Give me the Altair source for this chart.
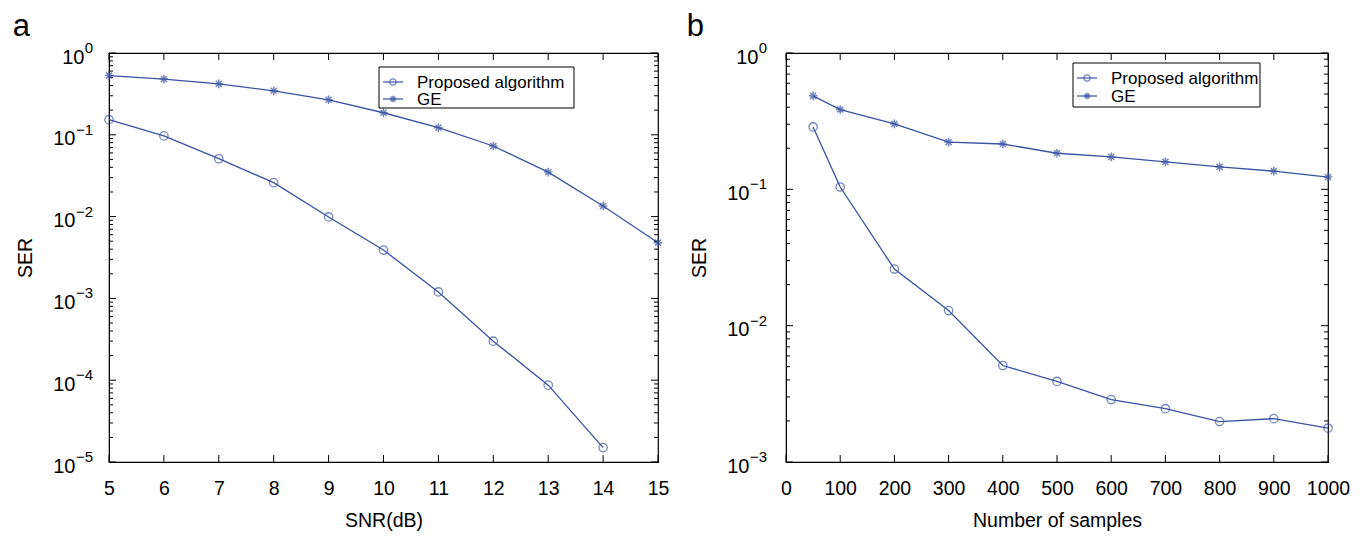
import altair as alt
import pandas as pd

# ---------------- data ----------------
snr = [5, 6, 7, 8, 9, 10, 11, 12, 13, 14, 15]
snr_prop = [5, 6, 7, 8, 9, 10, 11, 12, 13, 14]
ser_prop_snr = [0.153, 0.097, 0.051, 0.026, 0.0099, 0.0039, 0.0012, 0.0003, 8.7e-5, 1.5e-5]
ser_ge_snr = [0.53, 0.48, 0.42, 0.345, 0.268, 0.186, 0.122, 0.073, 0.035, 0.0135, 0.0048]

samples = [50, 100, 200, 300, 400, 500, 600, 700, 800, 900, 1000]
ser_prop_samples = [0.287, 0.104, 0.026, 0.0129, 0.0051, 0.0039, 0.00287, 0.00246, 0.00198, 0.00208, 0.00177]
ser_ge_samples = [0.485, 0.385, 0.302, 0.222, 0.215, 0.184, 0.173, 0.159, 0.146, 0.136, 0.123]

series_names = ["Proposed algorithm", "GE"]
left_xticks = list(range(5, 16))
right_xticks = list(range(0, 1001, 100))
left_yticks = [1, 0.1, 0.01, 0.001, 0.0001, 0.00001]
left_yexp = ["0", "\u22121", "\u22122", "\u22123", "\u22124", "\u22125"]
right_yticks = [1, 0.1, 0.01, 0.001]
right_yexp = ["0", "\u22121", "\u22122", "\u22123"]

BLUE = "#3953a4"
FONT = "Liberation Sans"
ASTER = "M-1,0L1,0M0,-1L0,1M-0.7,-0.7L0.7,0.7M-0.7,0.7L0.7,-0.7"


def minor_ticks(major):
    out = []
    for v in major:
        if v < max(major):
            out += [m * v for m in range(2, 10)]
    return out


def panel(xs_prop, ys_prop, xs_ge, ys_ge, xdom, xticks, yticks, yexp, xtitle, label,
          W, H, leg, exp_gap):
    minor = minor_ticks(yticks)
    xs = alt.Scale(domain=xdom, nice=False, zero=False)
    ys = alt.Scale(type="log", domain=[min(yticks), max(yticks)], nice=False)

    df_p = pd.DataFrame({"x": xs_prop, "y": ys_prop})
    df_g = pd.DataFrame({"x": xs_ge, "y": ys_ge})

    xenc = alt.X("x:Q", scale=xs,
                 axis=alt.Axis(values=xticks, ticks=False, grid=False, title=xtitle,
                               labelFontSize=19.5, titleFontSize=19.5, labelFont=FONT, titleFont=FONT,
                               labelColor="black", titleColor="black", titleFontWeight="normal",
                               labelPadding=17, titlePadding=14, domainColor="black",
                               labelFlush=False, format="d"))
    yenc = alt.Y("y:Q", scale=ys,
                 axis=alt.Axis(values=yticks, ticks=False, grid=False, title="SER",
                               labelExpr="'10'", labelFontSize=20, titleFontSize=19.5,
                               labelFont=FONT, titleFont=FONT, labelColor="black", titleColor="black",
                               titleFontWeight="normal",
                               labelPadding={"condition": {"test": "datum.value == 1",
                                                           "value": exp_gap + 9},
                                             "value": exp_gap + 18},
                               labelOffset=4, titlePadding=17,
                               domainColor="black", labelFlush=False))

    line_p = alt.Chart(df_p).mark_line(color=BLUE, strokeWidth=1.3).encode(x=xenc, y=yenc)
    pt_p = alt.Chart(df_p).mark_point(shape="circle", color=BLUE, filled=False, size=70,
                                      strokeWidth=1.3).encode(x="x:Q", y="y:Q")
    line_g = alt.Chart(df_g).mark_line(color=BLUE, strokeWidth=1.3).encode(x="x:Q", y="y:Q")
    pt_g = alt.Chart(df_g).mark_point(shape=ASTER, color=BLUE, filled=False, size=75,
                                      strokeWidth=1.5).encode(x="x:Q", y="y:Q")

    # exponents of the y tick labels
    df_exp = pd.DataFrame({"y": yticks, "e": yexp})
    exp_txt = alt.Chart(df_exp).mark_text(align="right", baseline="middle", fontSize=15,
                                          font=FONT, color="black", dy=-5).encode(
        y="y:Q", x=alt.value(-exp_gap), text="e:N")

    # inward ticks (box style)
    df_ymaj = pd.DataFrame({"y": yticks})
    df_ymin = pd.DataFrame({"y": minor})
    df_xt = pd.DataFrame({"x": xticks})
    tk = []
    for d, sz in ((df_ymaj, 7), (df_ymin, 4)):
        tk.append(alt.Chart(d).mark_rule(color="black", strokeWidth=1).encode(
            y="y:Q", x=alt.value(0), x2=alt.value(sz)))
        tk.append(alt.Chart(d).mark_rule(color="black", strokeWidth=1).encode(
            y="y:Q", x=alt.value(W), x2=alt.value(W - sz)))
    tk.append(alt.Chart(df_xt).mark_rule(color="black", strokeWidth=1).encode(
        x="x:Q", y=alt.value(H), y2=alt.value(H - 7)))
    tk.append(alt.Chart(df_xt).mark_rule(color="black", strokeWidth=1).encode(
        x="x:Q", y=alt.value(0), y2=alt.value(7)))

    # legend box
    bx0, bx1, by0, by1, r0, r1 = leg
    df_leg = pd.DataFrame({"name": series_names})
    box = alt.Chart(df_leg.head(1)).mark_rect(fill="white", stroke="black", strokeWidth=1).encode(
        x=alt.value(bx0), x2=alt.value(bx1), y=alt.value(by0), y2=alt.value(by1))
    lg = [box]
    for i, (ry, shp, sz, sw) in enumerate(((r0, "circle", 40, 1.2), (r1, ASTER, 45, 1.5))):
        d = df_leg.iloc[[i]]
        lg.append(alt.Chart(d).mark_rule(color=BLUE, strokeWidth=1.2).encode(
            x=alt.value(bx0 + 4), x2=alt.value(bx0 + 24), y=alt.value(ry)))
        lg.append(alt.Chart(d).mark_point(shape=shp, color=BLUE, filled=False, size=sz,
                                          strokeWidth=sw).encode(x=alt.value(bx0 + 14), y=alt.value(ry)))
        lg.append(alt.Chart(d).mark_text(align="left", baseline="middle", fontSize=17, font=FONT,
                                         color="black").encode(
            x=alt.value(bx0 + 38), y=alt.value(ry + 1), text="name:N"))

    return alt.layer(line_p, line_g, *tk, pt_p, pt_g, exp_txt, *lg).properties(
        width=W, height=H,
        title=alt.TitleParams(label, anchor="start", frame="bounds", fontSize=31,
                              fontWeight="normal", font=FONT, color="black", offset=-2,
                              dx=-3)
    )


left = panel(snr_prop, ser_prop_snr, snr, ser_ge_snr, [5, 15], left_xticks, left_yticks, left_yexp,
             "SNR(dB)", "a", 549, 409, (270, 465, 14, 55, 29, 46), 16)
right = panel(samples, ser_prop_samples, samples, ser_ge_samples, [0, 1000], right_xticks,
              right_yticks, right_yexp,
              "Number of samples", "b", 542, 409, (287, 474, 10, 54, 25, 43), 19)

chart = alt.hconcat(left, right, spacing=16).configure_view(
    stroke="black", strokeWidth=1.2
).properties(padding={"left": 4, "top": 2, "right": 5, "bottom": 5})

chart.save("out.html", embed_options={"renderer": "svg", "actions": False})
